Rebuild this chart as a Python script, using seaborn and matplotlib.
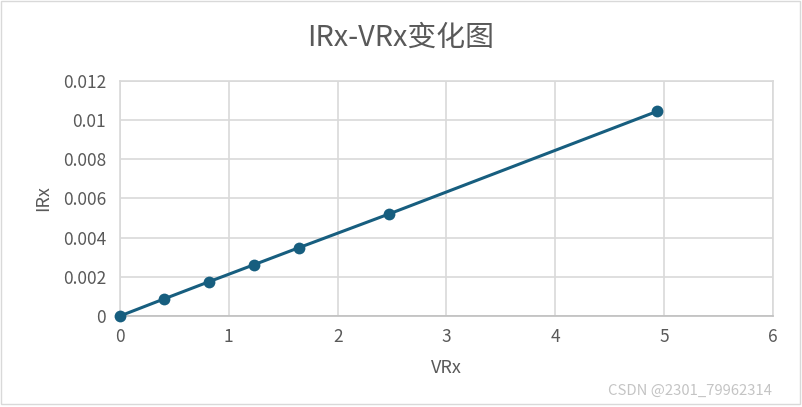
import matplotlib
matplotlib.use("Agg")
import matplotlib.pyplot as plt
import seaborn as sns
import pandas as pd
from matplotlib.patches import Rectangle

vrx = [0, 0.404, 0.818, 1.232, 1.645, 2.472, 4.935]
irx = [0, 0.00087, 0.00175, 0.00262, 0.00349, 0.00521, 0.01045]
x_ticks = [0, 1, 2, 3, 4, 5, 6]
y_ticks = [0, 0.002, 0.004, 0.006, 0.008, 0.01, 0.012]
y_tick_labels = ["0", "0.002", "0.004", "0.006", "0.008", "0.01", "0.012"]

sns.set_theme(style="white")
plt.rcParams['font.family'] = ['Noto Sans CJK SC', 'DejaVu Sans']

df = pd.DataFrame({"VRx": vrx, "IRx": irx})

fig = plt.figure(figsize=(8.02, 4.07), dpi=100)
ax = fig.add_axes([0.1496, 0.2236, 0.8142, 0.5774])
color = "#175E7F"
sns.lineplot(data=df, x="VRx", y="IRx", ax=ax, color=color, linewidth=2.2,
             marker="o", markersize=8.5, markeredgewidth=0, markerfacecolor=color,
             zorder=3, clip_on=False)

ax.set_xlim(0, 6)
ax.set_ylim(0, 0.012)
ax.set_xticks(x_ticks)
ax.set_yticks(y_ticks)
ax.set_yticklabels(y_tick_labels)
ax.grid(True, color="#D9D9D9", linewidth=1.2)
for s in ax.spines.values():
    s.set_color("#D9D9D9")
    s.set_linewidth(1.2)
ax.spines['bottom'].set_color("#BFBFBF")
ax.tick_params(axis='both', colors="#595959", labelsize=12.5, length=0)
ax.tick_params(axis='x', pad=9)
ax.tick_params(axis='y', pad=10)
ax.set_xlabel("VRx", color="#595959", fontsize=13, labelpad=9)
ax.set_ylabel("IRx", color="#595959", fontsize=13, labelpad=8)

fig.text(0.5, 0.907, "IRx-VRx变化图", ha="center", va="center", fontsize=20.8, color="#595959")
fig.text(0.963, 0.039, "CSDN @2301_79962314", ha="right", va="center", fontsize=10.7, color="#C4C4C4")
fig.patches.append(Rectangle((0.001, 0.007), 0.997, 0.99, transform=fig.transFigure,
                             fill=False, edgecolor="#D9D9D9", linewidth=1))

fig.savefig("out.png", dpi=100)
